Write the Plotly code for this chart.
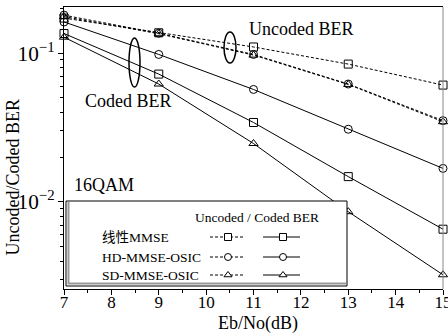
import plotly.graph_objects as go

# ---- data ----
ebno = [7, 9, 11, 13, 15]
mmse_uncoded = [0.172, 0.137, 0.110, 0.0844, 0.061]
hd_uncoded = [0.180, 0.136, 0.098, 0.0620, 0.0352]
sd_uncoded = [0.176, 0.135, 0.097, 0.0616, 0.0346]
mmse_coded = [0.1355, 0.0723, 0.0342, 0.0148, 0.00656]
hd_coded = [0.162, 0.098, 0.057, 0.0308, 0.0168]
sd_coded = [0.128, 0.062, 0.0247, 0.0086, 0.00324]

series_names = ["线性MMSE", "HD-MMSE-OSIC", "SD-MMSE-OSIC"]
symbols = ["square-open", "circle-open", "triangle-up-open"]
x_ticks = [7, 8, 9, 10, 11, 12, 13, 14, 15]

FONT = "Liberation Serif, Times New Roman, Noto Sans CJK SC, serif"
W, H = 448, 336
L, R, T, B = 64, 443, 7, 289  # plot area in pixels


def px(x):
    return (x - L) / (R - L)


def py(y):
    return (B - y) / (B - T)


fig = go.Figure()

uncoded = [mmse_uncoded, hd_uncoded, sd_uncoded]
coded = [mmse_coded, hd_coded, sd_coded]

for name, sym, yv in zip(series_names, symbols, uncoded):
    fig.add_trace(go.Scatter(
        x=ebno, y=yv, mode="lines+markers", name=name + " uncoded",
        line=dict(color="black", width=1, dash="3px,2px"),
        marker=dict(symbol=sym, size=8, color="black", line=dict(width=1)),
        showlegend=False, cliponaxis=False))
for name, sym, yv in zip(series_names, symbols, coded):
    fig.add_trace(go.Scatter(
        x=ebno, y=yv, mode="lines+markers", name=name + " coded",
        line=dict(color="black", width=1),
        marker=dict(symbol=sym, size=8, color="black", line=dict(width=1)),
        showlegend=False, cliponaxis=False))

# ---- custom legend drawn on an overlay (pixel) axis ----
bx0, by0, bx1, by1 = 66, 201, 347, 286
fig.add_trace(go.Scatter(
    x=[bx0, bx1, bx1, bx0, bx0], y=[by0, by0, by1, by1, by0],
    xaxis="x2", yaxis="y2", mode="lines", fill="toself", fillcolor="white",
    line=dict(color="black", width=1), showlegend=False, hoverinfo="skip"))
fig.add_trace(go.Scatter(
    x=[bx0 + 2.5, bx0 + 2.5, bx1 - 1], y=[by0 + 1, by1 - 2.5, by1 - 2.5],
    xaxis="x2", yaxis="y2", mode="lines",
    line=dict(color="#999999", width=2), showlegend=False, hoverinfo="skip"))

row_y = [237, 257, 275]
for sym, ry in zip(symbols, row_y):
    fig.add_trace(go.Scatter(
        x=[210, 245], y=[ry, ry], xaxis="x2", yaxis="y2", mode="lines",
        line=dict(color="black", width=1, dash="3px,2px"),
        showlegend=False, hoverinfo="skip"))
    fig.add_trace(go.Scatter(
        x=[263, 300], y=[ry, ry], xaxis="x2", yaxis="y2", mode="lines",
        line=dict(color="black", width=1),
        showlegend=False, hoverinfo="skip"))
    fig.add_trace(go.Scatter(
        x=[228, 283], y=[ry, ry], xaxis="x2", yaxis="y2", mode="markers",
        marker=dict(symbol=sym.replace("-open", ""), size=7, color="white",
                    line=dict(color="black", width=1)),
        showlegend=False, hoverinfo="skip"))

annotations = [
    dict(text="Uncoded / Coded BER", x=257, y=217, size=13.5, xanchor="center"),
    dict(text="Uncoded BER", x=301, y=29, size=18, xanchor="center"),
    dict(text="Coded BER", x=128, y=101, size=18, xanchor="center"),
    dict(text="16QAM", x=72, y=185, size=18, xanchor="left"),
    dict(text="Eb/No(dB)", x=258, y=323, size=18, xanchor="center"),
]
for name, ry in zip(series_names, row_y):
    annotations.append(dict(text=name, x=100, y=ry, size=13.5, xanchor="left"))

ann_list = []
for a in annotations:
    ann_list.append(dict(text=a["text"], x=px(a["x"]), y=py(a["y"]), xref="paper",
                         yref="paper", xanchor=a["xanchor"], yanchor="middle",
                         showarrow=False,
                         font=dict(family=FONT, size=a["size"], color="black")))
ann_list.append(dict(text="Uncoded/Coded BER", x=px(12.5), y=py(178), xref="paper",
                     yref="paper", textangle=-90, xanchor="center", yanchor="middle",
                     showarrow=False, font=dict(family=FONT, size=18, color="black")))

shapes = [
    dict(type="circle", xref="paper", yref="paper", x0=px(129), x1=px(140),
         y0=py(38), y1=py(87), line=dict(color="black", width=1.5)),
    dict(type="circle", xref="paper", yref="paper", x0=px(224), x1=px(236),
         y0=py(32), y1=py(63), line=dict(color="black", width=1.5)),
    dict(type="line", xref="paper", yref="paper", x0=1, x1=1, y0=0, y1=1,
         line=dict(color="#888888", width=1)),
]

fig.update_layout(
    width=W, height=H,
    margin=dict(l=L, r=W - R, t=T, b=H - B, pad=0, autoexpand=False),
    paper_bgcolor="white", plot_bgcolor="white",
    font=dict(family=FONT, size=17, color="black"),
    showlegend=False,
    xaxis=dict(range=[7, 15], tickvals=x_ticks, ticks="outside", ticklen=5,
               tickwidth=1, tickcolor="black", showline=True, linecolor="black",
               linewidth=1, mirror=True, showgrid=False, zeroline=False,
               automargin=False, ticklabelstandoff=-7, ticklabeloverflow="allow",
               minor=dict(ticks="outside", ticklen=3, dtick=0.5, tick0=7,
                          tickcolor="black", showgrid=False),
               tickfont=dict(family=FONT, size=17)),
    yaxis=dict(type="log", range=[-2.585, -0.69], dtick=1, exponentformat="power",
               ticks="outside", ticklen=5, tickwidth=1, tickcolor="black",
               showline=True, linecolor="black", linewidth=1, showgrid=False,
               zeroline=False, automargin=False,
               minor=dict(ticks="outside", ticklen=3, dtick="D1",
                          tickcolor="black", showgrid=False),
               tickfont=dict(family=FONT, size=17)),
    xaxis2=dict(overlaying="x", anchor="y2", range=[L, R], visible=False,
                automargin=False),
    yaxis2=dict(overlaying="y", anchor="x2", range=[B, T], visible=False,
                automargin=False),
    annotations=ann_list,
    shapes=shapes,
)

fig.write_html("out.html", config={"displayModeBar": False},
               post_script="document.body.style.margin='0px';"
                           "document.body.style.padding='0px';")
